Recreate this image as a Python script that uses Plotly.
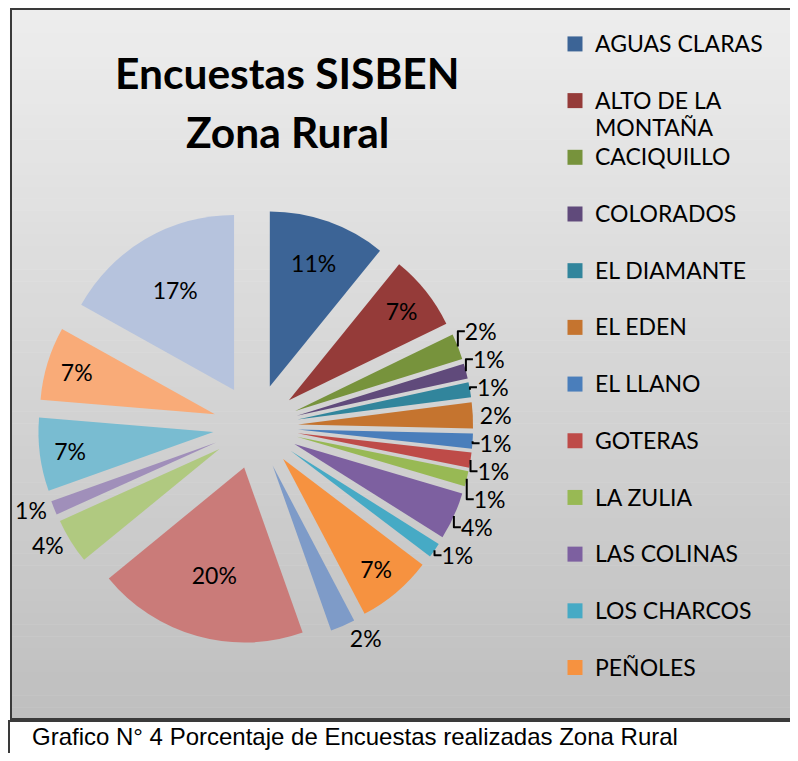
import plotly.graph_objects as go

# valores (porcentaje de encuestas por vereda)
legend_labels = ['AGUAS CLARAS', 'ALTO DE LA<br>MONTAÑA', 'CACIQUILLO', 'COLORADOS',
                 'EL DIAMANTE', 'EL EDEN', 'EL LLANO', 'GOTERAS', 'LA ZULIA',
                 'LAS COLINAS', 'LOS CHARCOS', 'PEÑOLES']
# las ultimas 7 veredas no aparecen en la leyenda original (recortada)
extra_labels = ['Vereda 13', 'Vereda 14', 'Vereda 15', 'Vereda 16',
                'Vereda 17', 'Vereda 18', 'Vereda 19']
values = [10.9, 7.0, 2.4, 1.4, 1.4, 2.4, 1.4, 1.4, 1.4, 4.4, 1.4, 7.0,
          2.3, 19.6, 4.2, 1.3, 6.8, 6.8, 17.0]
colors = ['#3C6496', '#953B39', '#77933C', '#604A7B', '#31859C', '#C5742F',
          '#4A7EBB', '#BE4B48', '#98B954', '#7D60A0', '#46AAC5', '#F69240',
          '#7E9BC8', '#CA7B79', '#B0C980', '#A08FBA', '#79BCD1', '#F9AB78',
          '#B6C3DD']
text_pos = ['inside', 'inside', 'outside', 'outside', 'outside', 'outside',
            'outside', 'outside', 'outside', 'outside', 'outside', 'inside',
            'outside', 'inside', 'outside', 'outside', 'inside', 'inside',
            'inside']

# la pagina tiene 8 px de margen en el body: la figura se ajusta para no desbordar
OFF = 8
W, H = 798 - OFF - 1, 761 - 2 * OFF


def px(x):
    return (x - OFF) / W


def py(y):
    return 1 - (y - OFF) / H


slice_labels = [l.replace('<br>', ' ') for l in legend_labels] + extra_labels

fig = go.Figure()

# pie centrado en (255.6, 426.6) px, radio ~175, separacion ~42
cx, cy, R = 255.6, 426.6, 217.5
fig.add_trace(go.Pie(
    labels=slice_labels,
    values=values,
    sort=False,
    direction='clockwise',
    rotation=0,
    pull=0.243,
    marker=dict(colors=colors, line=dict(width=0)),
    texttemplate='%{value:.0f}%',
    textposition=text_pos,
    insidetextorientation='horizontal',
    textfont=dict(family='Lato', size=23, color='black'),
    outsidetextfont=dict(family='Lato', size=23, color='black'),
    domain=dict(x=[px(cx - R), px(cx + R)], y=[py(cy + R), py(cy - R)]),
    showlegend=False,
    hoverinfo='label+text',
))

# leyenda (solo las 12 primeras entradas, como en el original)
for name, col in zip(legend_labels, colors):
    txt = name if '<br>' in name else name + '<br> '
    fig.add_trace(go.Scatter(
        x=[None], y=[None], mode='markers',
        name='<span style="font-size:23px">%s</span>' % txt,
        marker=dict(symbol='square', size=15, color=col),
    ))

# fondo degradado del area del grafico
shapes = []
n = 60
top, bot = 9, 719
c0, c1 = (237, 237, 237), (191, 191, 191)
for i in range(n):
    t = i / (n - 1)
    c = tuple(round(a + (b - a) * t) for a, b in zip(c0, c1))
    y0 = top + (bot - top) * i / n
    y1 = top + (bot - top) * (i + 1) / n + 0.5
    shapes.append(dict(type='rect', xref='paper', yref='paper', layer='below',
                       x0=px(11), x1=1.0, y0=py(y1), y1=py(y0),
                       line=dict(width=0), fillcolor='rgb(%d,%d,%d)' % c))
# borde del grafico (el lado derecho queda fuera de la imagen original)
border = 'M1.01,%f L%f,%f L%f,%f L1.01,%f' % (py(top), px(11), py(top), px(11), py(bot), py(bot))
shapes.append(dict(type='path', xref='paper', yref='paper', layer='below', path=border,
                   line=dict(color='#3A3A3A', width=2)))
# recuadro del pie de figura
shapes.append(dict(type='rect', xref='paper', yref='paper', layer='below',
                   x0=px(9), x1=1.0, y0=0, y1=py(721),
                   line=dict(width=0), fillcolor='white'))
caption_box = 'M1.01,%f L%f,%f L%f,-0.01' % (py(721), px(9), py(721), px(9))
shapes.append(dict(type='path', xref='paper', yref='paper', layer='below', path=caption_box,
                   line=dict(color='#3A3A3A', width=2)))

fig.update_layout(
    width=W, height=H,
    margin=dict(l=0, r=0, t=0, b=0, autoexpand=False),
    paper_bgcolor='white',
    plot_bgcolor='rgba(0,0,0,0)',
    xaxis=dict(visible=False),
    yaxis=dict(visible=False),
    shapes=shapes,
    legend=dict(
        x=px(555), xanchor='left', y=py(24), yanchor='top',
        valign='top', bgcolor='rgba(0,0,0,0)', maxheight=2000,
        font=dict(family='Lato', size=20.65, color='black'),
        itemclick=False,
    ),
    annotations=[
        dict(text='<b>Encuestas SISBEN</b>', x=px(287), y=py(72),
             xanchor='center', yanchor='middle',
             xref='paper', yref='paper', showarrow=False,
             font=dict(family='Lato', size=42.5, color='black')),
        dict(text='<b>Zona Rural</b>', x=px(287), y=py(131),
             xanchor='center', yanchor='middle',
             xref='paper', yref='paper', showarrow=False,
             font=dict(family='Lato', size=42.5, color='black')),
        dict(text='Grafico N° 4 Porcentaje de Encuestas realizadas Zona Rural',
             x=px(30), y=0.002, xanchor='left', yanchor='bottom',
             xref='paper', yref='paper', showarrow=False,
             font=dict(family='Liberation Sans Narrow, Liberation Sans', size=24, color='black')),
    ],
)

fig.write_html('out.html')
